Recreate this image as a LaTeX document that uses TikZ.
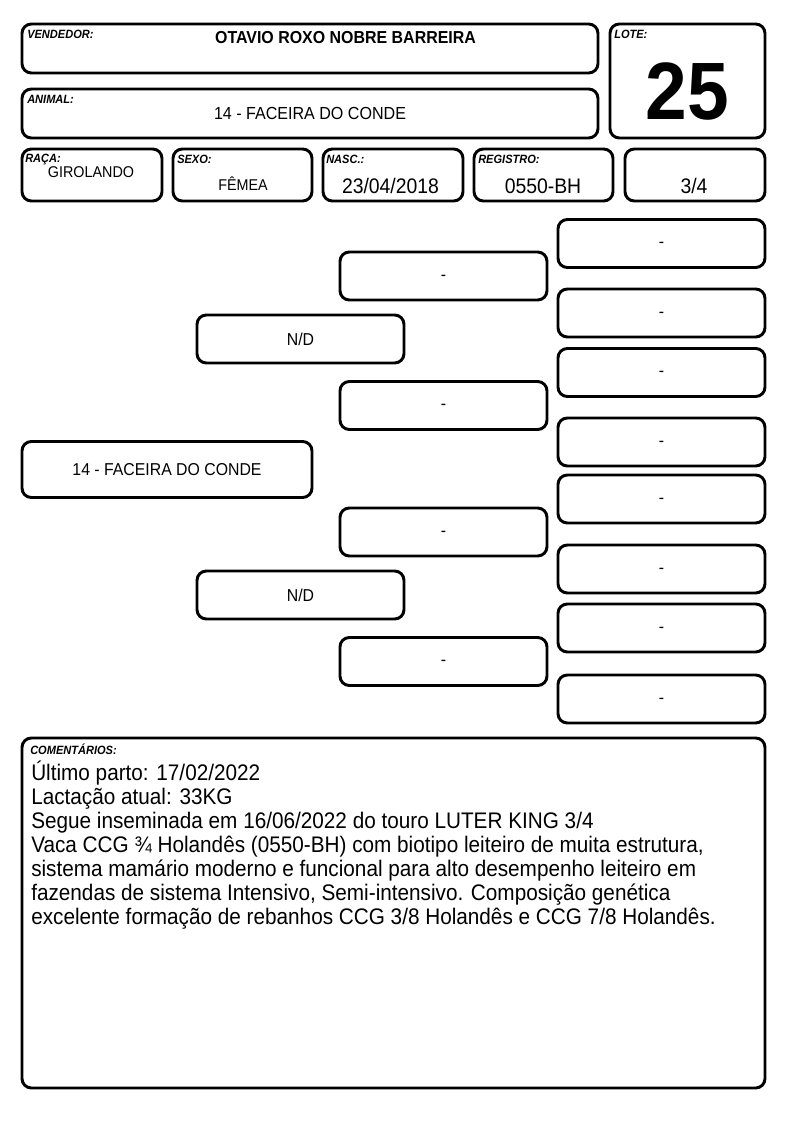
\documentclass[tikz,border=0pt]{standalone}
\usepackage{fontspec}
\setmainfont{Liberation Sans}[FakeStretch=0.92]
\newcommand\pdash{\smash{\raisebox{-0.24em}{-}}}
\begin{document}
\begin{tikzpicture}[x=0.75pt,y=-0.75pt,
  box/.style={draw, line width=2.2pt, rounded corners=7pt, inner sep=0pt},
  lbl/.style={anchor=north west, inner sep=0pt, font=\fontsize{9}{10}\selectfont\bfseries\itshape},
  ped/.style={box, minimum width=155.25pt, minimum height=36pt, font=\fontsize{12.9}{14}\selectfont},
  val/.style={inner sep=0pt}]
\useasboundingbox (0,0) rectangle (794,1123);
% header boxes
\node[box, minimum width=432pt, minimum height=36.75pt] (vend) at (310,48.5) {};
\node[box, minimum width=432pt, minimum height=36.75pt] (anim) at (310,113.5) {};
\node[box, minimum width=116.25pt, minimum height=85.5pt] (lote) at (687.5,81) {};
\node[lbl] (vendl) at (27,30) {VENDEDOR:};
\node[val, font=\fontsize{13}{15}\selectfont\bfseries] (vendv) at (345.5,38) {OTAVIO ROXO NOBRE BARREIRA};
\node[lbl] (animl) at (27,95) {ANIMAL:};
\node[val, font=\fontsize{13.1}{15}\selectfont] (animv) at (310,113) {14 - FACEIRA DO CONDE};
\node[lbl] (lotel) at (614,30) {LOTE:};
\node[val, font=\fontsize{61}{64}\selectfont\bfseries] (lotev) at (687.5,92) {25};
% info row
\node[box, minimum width=105pt, minimum height=39pt] (raca) at (92,175) {};
\node[box, minimum width=104.25pt, minimum height=39pt] (sexo) at (242.5,175) {};
\node[box, minimum width=105pt, minimum height=39pt] (nasc) at (393,175) {};
\node[box, minimum width=104.25pt, minimum height=39pt] (reg) at (543.5,175) {};
\node[box, minimum width=105pt, minimum height=39pt] (frac) at (695,175) {};
\node[lbl] (racal) at (25,154) {RAÇA:};
\node[lbl] (sexol) at (177,155) {SEXO:};
\node[lbl] (nascl) at (326,155) {NASC.:};
\node[lbl] (regl) at (478,155) {REGISTRO:};
\node[val, font=\fontsize{11.7}{13}\selectfont] (racav) at (91,172) {GIROLANDO};
\node[val, font=\fontsize{11.7}{13}\selectfont] (sexov) at (243,184) {FÊMEA};
\node[val, font=\fontsize{15.8}{18}\selectfont] (nascv) at (390.5,186) {23/04/2018};
\node[val, font=\fontsize{15.8}{18}\selectfont] (regv) at (543,186) {0550-BH};
\node[val, font=\fontsize{15.8}{18}\selectfont] (fracv) at (694,186) {3/4};
% pedigree
\node[box, minimum width=217.5pt, minimum height=42pt, font=\fontsize{12.9}{14}\selectfont] (p1) at (167,469.5) {14 - FACEIRA DO CONDE};
\node[ped] (p2a) at (300.5,339) {N/D};
\node[ped] (p2b) at (300.5,595) {N/D};
\node[ped] (p3a) at (443.5,276) {\pdash};
\node[ped] (p3b) at (443.5,405.5) {\pdash};
\node[ped] (p3c) at (443.5,532) {\pdash};
\node[ped] (p3d) at (443.5,661.5) {\pdash};
\node[ped] (p4a) at (661.5,243.5) {\pdash};
\node[ped] (p4b) at (661.5,313) {\pdash};
\node[ped] (p4c) at (661.5,372.5) {\pdash};
\node[ped] (p4d) at (661.5,442) {\pdash};
\node[ped] (p4e) at (661.5,499) {\pdash};
\node[ped] (p4f) at (661.5,569) {\pdash};
\node[ped] (p4g) at (661.5,628) {\pdash};
\node[ped] (p4h) at (661.5,699) {\pdash};
% comments
\node[box, minimum width=557.25pt, minimum height=262.5pt] (com) at (393.5,913) {};
\node[lbl] (coml) at (30,744) {COMENTÁRIOS:};
\node[anchor=north west, inner sep=0pt, align=left, font=\fontsize{16.9}{18}\selectfont] (comv) at (31,761) {Último parto: 17/02/2022\\
Lactação atual: 33KG\\
Segue inseminada em 16/06/2022 do touro LUTER KING 3/4\\
Vaca CCG ¾ Holandês (0550-BH) com biotipo leiteiro de muita estrutura,\\
sistema mamário moderno e funcional para alto desempenho leiteiro em\\
fazendas de sistema Intensivo, Semi-intensivo. Composição genética\\
excelente formação de rebanhos CCG 3/8 Holandês e CCG 7/8 Holandês.};
\end{tikzpicture}
\end{document}
